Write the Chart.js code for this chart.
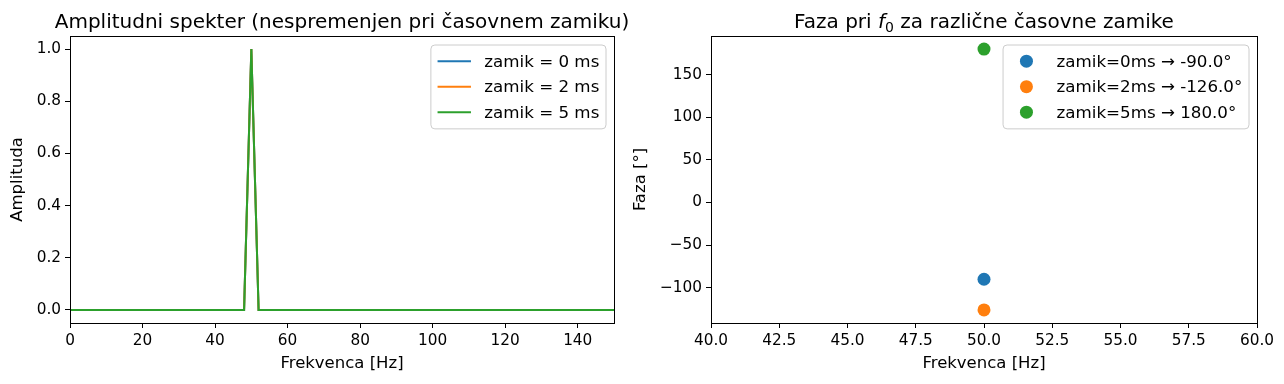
<!DOCTYPE html>
<html>
<head>
<meta charset="utf-8">
<script src="https://cdn.jsdelivr.net/npm/chart.js@4.4.1/dist/chart.umd.min.js"></script>
<style>
body { margin: 0; background: #fff; }
#wrap { position: relative; width: 1284px; height: 384px; overflow: hidden; }
canvas { position: absolute; top: 0; }
</style>
</head>
<body>
<div id="wrap">
  <canvas id="amp" width="642" height="384" style="left:0"></canvas>
  <canvas id="phase" width="684" height="384" style="left:600px"></canvas>
</div>
<script>
// Amplitude spectrum (same for every delay)
const freqs = [0, 48, 50, 52, 150];
const ampZamik0 = [0, 0, 1, 0, 0];
const ampZamik2 = [0, 0, 1, 0, 0];
const ampZamik5 = [0, 0, 1, 0, 0];
const ampLabels = ['zamik = 0 ms', 'zamik = 2 ms', 'zamik = 5 ms'];

// Phase at f0
const f0 = 50;
const phases = [-90.0, -126.0, 180.0];
const phaseLabels = ['zamik=0ms → -90.0°', 'zamik=2ms → -126.0°', 'zamik=5ms → 180.0°'];

// Tick labels
const ampXTicks = [0, 20, 40, 60, 80, 100, 120, 140];
const ampYTicks = [0, 0.2, 0.4, 0.6, 0.8, 1.0];
const phaseXTicks = [40, 42.5, 45, 47.5, 50, 52.5, 55, 57.5, 60];
const phaseYTicks = [-100, -50, 0, 50, 100, 150];

const colors = ['#1f77b4', '#ff7f0e', '#2ca02c'];
const FONT = "'DejaVu Sans', sans-serif";
const TICK_SIZE = 15.3;
const LABEL_SIZE = 16.5;
const LEGEND_SIZE = 16.7;
const TITLE_SIZE = 20;

function axis(min, max, ticks, fmt, title, titlePad, size, isY) {
    return {
        type: 'linear',
        min: min,
        max: max,
        afterBuildTicks: s => { s.ticks = ticks.map(v => ({ value: v })); },
        afterFit: s => { if (isY) s.width = size; else s.height = size; },
        grid: { drawOnChartArea: false, drawTicks: true, tickLength: 5, color: '#000', lineWidth: 1 },
        border: { display: false },
        ticks: {
            color: '#000',
            font: { family: FONT, size: TICK_SIZE },
            padding: 4,
            maxRotation: 0,
            autoSkip: false,
            callback: v => fmt(v)
        },
        title: {
            display: true,
            text: title,
            color: '#000',
            font: { family: FONT, size: LABEL_SIZE },
            padding: isY ? { top: titlePad } : { bottom: titlePad }
        }
    };
}

// frame, title and matplotlib-like legend
const mplPlugin = {
    id: 'mpl',
    afterDraw(chart) {
        const o = chart.options.plugins.mpl;
        const ctx = chart.ctx;
        const a = chart.chartArea;
        ctx.save();

        // frame
        ctx.strokeStyle = '#000';
        ctx.lineWidth = 1;
        ctx.strokeRect(Math.round(a.left) + 0.5, Math.round(a.top) + 0.5,
            Math.round(a.right - a.left), Math.round(a.bottom - a.top));

        // title (parts, to allow italic f with subscript)
        const cx = (a.left + a.right) / 2;
        const by = a.top - 8;
        const parts = o.title;
        let total = 0;
        parts.forEach(p => {
            ctx.font = (p.italic ? 'italic ' : '') + (p.size || TITLE_SIZE) + 'px ' + FONT;
            p.w = ctx.measureText(p.text).width;
            total += p.w;
        });
        let x = cx - total / 2;
        ctx.fillStyle = '#000';
        ctx.textBaseline = 'alphabetic';
        ctx.textAlign = 'left';
        parts.forEach(p => {
            ctx.font = (p.italic ? 'italic ' : '') + (p.size || TITLE_SIZE) + 'px ' + FONT;
            ctx.fillText(p.text, x, by + (p.dy || 0));
            x += p.w;
        });

        // legend
        const fs = LEGEND_SIZE;
        const labels = o.labels;
        ctx.font = fs + 'px ' + FONT;
        const textW = Math.max(...labels.map(l => ctx.measureText(l).width));
        const pad = 0.4 * fs, handle = 2 * fs, hpad = 0.8 * fs, rowH = 25.5;
        const w = pad + handle + hpad + textW + pad;
        const h = 2 * pad + labels.length * rowH - 6;
        const left = a.right - 8 - w;
        const top = a.top + 9;
        ctx.beginPath();
        ctx.roundRect(left, top, w, h, 4);
        ctx.fillStyle = 'rgba(255,255,255,0.8)';
        ctx.fill();
        ctx.strokeStyle = '#cccccc';
        ctx.stroke();
        labels.forEach((l, i) => {
            const y = top + pad + 9.5 + i * rowH;
            const hx = left + pad;
            if (o.marker === 'line') {
                ctx.strokeStyle = colors[i];
                ctx.lineWidth = 2;
                ctx.beginPath();
                ctx.moveTo(hx, y);
                ctx.lineTo(hx + handle, y);
                ctx.stroke();
            } else {
                ctx.fillStyle = colors[i];
                ctx.beginPath();
                ctx.arc(hx + handle / 2, y, 6.5, 0, Math.PI * 2);
                ctx.fill();
            }
            ctx.fillStyle = '#000';
            ctx.textBaseline = 'middle';
            ctx.fillText(l, hx + handle + hpad, y + 1);
        });
        ctx.restore();
    }
};

const ampSeries = [ampZamik0, ampZamik2, ampZamik5];

new Chart(document.getElementById('amp'), {
    type: 'line',
    data: {
        datasets: ampSeries.map((vals, i) => ({
            label: ampLabels[i],
            data: freqs.map((f, j) => ({ x: f, y: vals[j] })),
            borderColor: colors[i],
            borderWidth: 2,
            pointRadius: 0,
            tension: 0,
            fill: false,
            order: 2 - i
        }))
    },
    options: {
        responsive: false,
        animation: false,
        events: [],
        layout: { padding: { top: 36, right: 28, left: 0, bottom: 0 } },
        scales: {
            x: axis(0, 150, ampXTicks, v => String(v), 'Frekvenca [Hz]', 10, 61, false),
            y: axis(-0.05, 1.05, ampYTicks, v => v.toFixed(1), 'Amplituda', 8, 70, true)
        },
        plugins: {
            legend: { display: false },
            tooltip: { enabled: false },
            mpl: {
                title: [{ text: 'Amplitudni spekter (nespremenjen pri časovnem zamiku)' }],
                labels: ampLabels,
                marker: 'line'
            }
        }
    },
    plugins: [mplPlugin]
});

new Chart(document.getElementById('phase'), {
    type: 'scatter',
    data: {
        datasets: phases.map((p, i) => ({
            label: phaseLabels[i],
            data: [{ x: f0, y: p }],
            backgroundColor: colors[i],
            borderWidth: 0,
            pointRadius: 6.5
        }))
    },
    options: {
        responsive: false,
        animation: false,
        events: [],
        layout: { padding: { top: 36, right: 27, left: 0, bottom: 0 } },
        scales: {
            x: axis(40, 60, phaseXTicks, v => v.toFixed(1), 'Frekvenca [Hz]', 10, 61, false),
            y: axis(-141.3, 195.3, phaseYTicks, v => (v < 0 ? '\u2212' + Math.abs(v) : String(v)), 'Faza [°]', 31, 111, true)
        },
        plugins: {
            legend: { display: false },
            tooltip: { enabled: false },
            mpl: {
                title: [
                    { text: 'Faza pri ' },
                    { text: 'f', italic: true },
                    { text: '0', size: 14, dy: 4 },
                    { text: ' za različne časovne zamike' }
                ],
                labels: phaseLabels,
                marker: 'dot'
            }
        }
    },
    plugins: [mplPlugin]
});
</script>
</body>
</html>
